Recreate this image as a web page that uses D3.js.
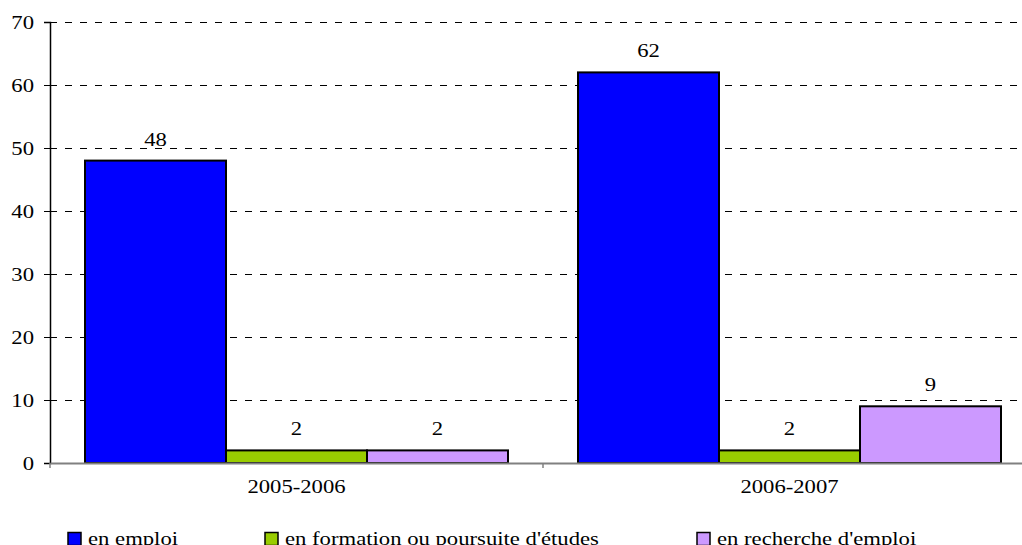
<!DOCTYPE html>
<html>
<head>
<meta charset="utf-8">
<script src="https://cdn.jsdelivr.net/npm/d3@7"></script>
<style>
body { margin: 0; background: #fff; }
</style>
</head>
<body>
<script>
var width = 1022;
var height = 545;
var margin = {top: 22, right: -14, bottom: 82, left: 50};
var w = width - margin.left - margin.right;
var h = height - margin.top - margin.bottom;

var years = ['2005-2006', '2006-2007'];
var series = ['en emploi', 'en formation ou poursuite d\'études', 'en recherche d\'emploi'];
var colors = ['#0000ff', '#99cc00', '#cc99ff'];
var emploi = [48, 62];
var formation = [2, 2];
var recherche = [2, 9];
var yTicks = [0, 10, 20, 30, 40, 50, 60, 70];
var legendX = [68, 265, 697];

var values = [emploi, formation, recherche];
var font = 'Liberation Serif, DejaVu Serif, serif';
var fs = 18;
var stretch = 'scale(1.26,1)';

var svg = d3.select("body").append("svg")
  .attr("width", width)
  .attr("height", height)
  .append("g")
  .attr("transform", "translate(" + margin.left + "," + margin.top + ")");

var x0 = d3.scaleBand().domain(years).range([0, w]);
var x1 = d3.scaleBand().domain(d3.range(series.length)).range([35, x0.bandwidth() - 35]);
var y = d3.scaleLinear().domain([0, 70]).range([h, 0]);

// dashed grid
svg.selectAll(".grid")
  .data(yTicks.slice(1))
  .enter().append("line")
  .attr("x1", 0)
  .attr("x2", width - margin.left)
  .attr("y1", function(d) { return Math.round(y(d)) + 0.5; })
  .attr("y2", function(d) { return Math.round(y(d)) + 0.5; })
  .attr("stroke", "#000")
  .attr("stroke-width", 1)
  .attr("stroke-dasharray", "7,8");

// bars
years.forEach(function(yr, i) {
  var g = svg.append("g").attr("transform", "translate(" + x0(yr) + ",0)");
  values.forEach(function(v, s) {
    g.append("rect")
      .attr("x", x1(s))
      .attr("width", x1.bandwidth())
      .attr("y", y(v[i]))
      .attr("height", h - y(v[i]))
      .attr("fill", colors[s])
      .attr("stroke", "#000")
      .attr("stroke-width", 2);
    var lx = x1(s) + x1.bandwidth() / 2;
    g.append("text")
      .attr("transform", "translate(" + lx + "," + (y(v[i]) - 15) + ") " + stretch)
      .attr("text-anchor", "middle")
      .attr("font-family", font)
      .attr("font-size", fs)
      .text(v[i]);
  });
});

// y axis
var yAxis = svg.append("g").call(d3.axisLeft(y).tickValues(yTicks).tickSize(6).tickPadding(10));
yAxis.attr("font-family", font);
yAxis.select(".domain").attr("stroke", "#000").attr("stroke-width", 1.5);
yAxis.selectAll("line").attr("stroke", "#000");
yAxis.selectAll("text")
  .attr("font-size", fs)
  .attr("fill", "#000")
  .attr("dy", "0.35em")
  .attr("transform", "translate(-16,0) " + stretch + " translate(16,0)");

// x axis
var xAxis = svg.append("g")
  .attr("transform", "translate(0," + h + ")")
  .call(d3.axisBottom(x0).tickSize(0).tickPadding(17));
xAxis.attr("font-family", font);
xAxis.select(".domain").attr("stroke", "#808080").attr("stroke-width", 2);
xAxis.selectAll("text")
  .attr("font-size", fs)
  .attr("fill", "#000")
  .each(function(d) {
    d3.select(this.parentNode).attr("transform", "translate(" + (x0(d) + x0.bandwidth() / 2) + ",0) " + stretch);
  });
svg.append("g").selectAll("line")
  .data(years)
  .enter().append("line")
  .attr("x1", function(d) { return x0(d); })
  .attr("x2", function(d) { return x0(d); })
  .attr("y1", h)
  .attr("y2", h + 5)
  .attr("stroke", "#808080")
  .attr("stroke-width", 1.5);

// legend
var legend = d3.select("svg").append("g").attr("font-family", font);
series.forEach(function(s, i) {
  legend.append("rect")
    .attr("x", legendX[i])
    .attr("y", 532.5)
    .attr("width", 13)
    .attr("height", 13)
    .attr("fill", colors[i])
    .attr("stroke", "#000")
    .attr("stroke-width", 1.5);
  legend.append("text")
    .attr("transform", "translate(" + (legendX[i] + 20) + ",545) " + stretch)
    .attr("font-size", fs)
    .text(s);
});
</script>
</body>
</html>
